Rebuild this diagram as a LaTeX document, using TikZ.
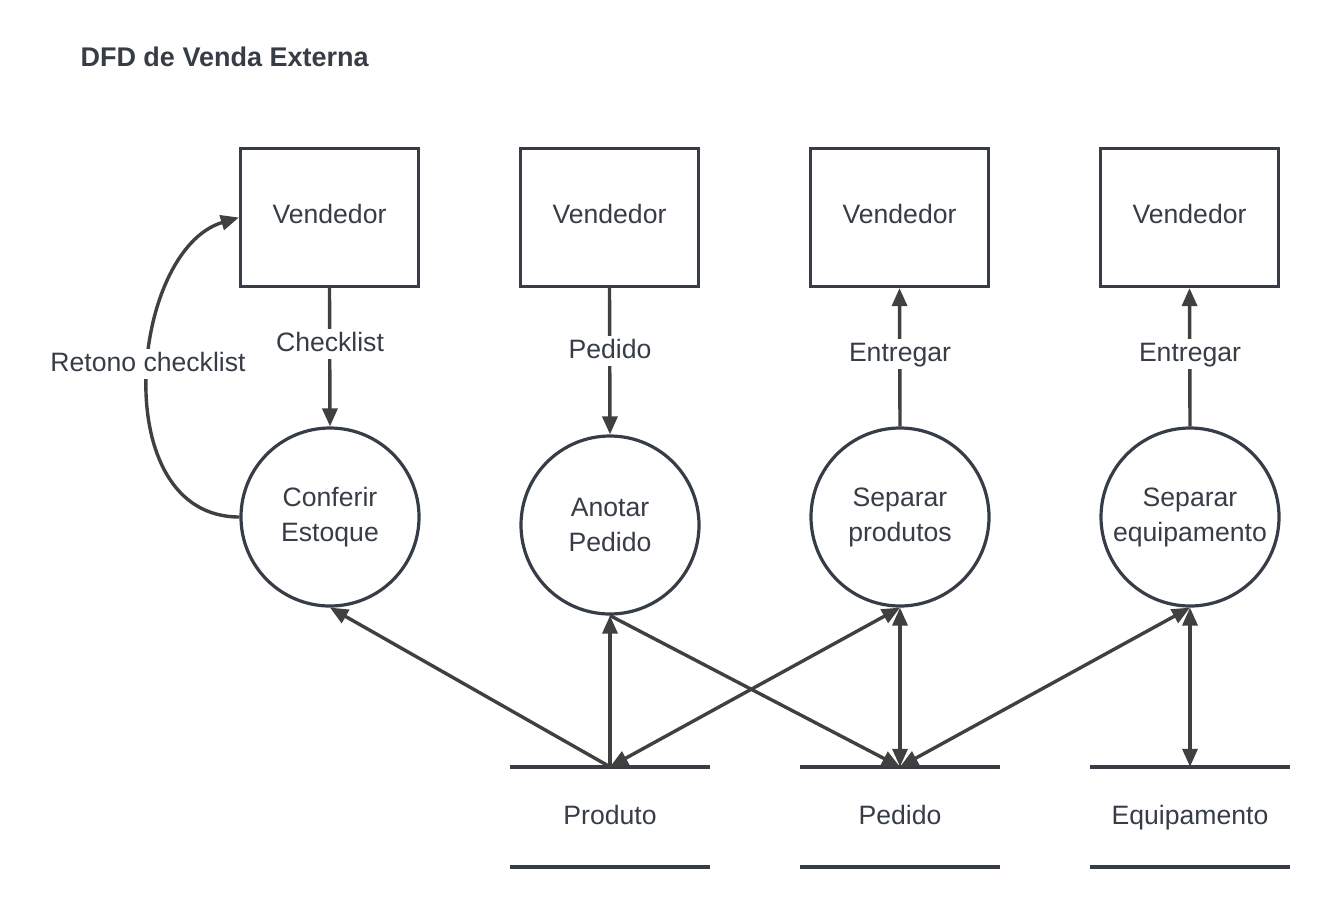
\documentclass[tikz,border=0pt]{standalone}
\usepackage{fontspec}
\setmainfont{Liberation Sans}
\usetikzlibrary{arrows.meta}
\definecolor{ink}{HTML}{363D47}
\definecolor{arr}{HTML}{404040}
\begin{document}
\begin{tikzpicture}[x=1pt,y=-1pt,
  font=\fontsize{26.6}{35}\selectfont, text=ink,
  ent/.style={draw=ink, line width=3.2pt, minimum width=178pt, minimum height=138pt, fill=white, inner sep=0pt, text height=19pt, text depth=6.5pt},
  proc/.style={draw=ink, line width=3.2pt, circle, minimum size=178pt, fill=white, align=center, inner sep=0pt},
  store/.style={minimum width=200pt, minimum height=100pt, inner sep=0pt, text height=19pt, text depth=5pt},
  storeline/.style={draw=ink, line width=4pt},
  tip/.tip={Triangle[length=18pt,width=15pt]},
  flow/.style={draw=arr, line width=3.4pt, -tip},
  flowtwo/.style={draw=arr, line width=3.4pt, tip-tip},
  lab/.style={fill=white, inner sep=3pt, text height=19pt, text depth=5pt}]
\fill[white] (0,0) rectangle (1330,908);
\useasboundingbox (0,0) rectangle (1330,908);

% title
\node[anchor=west, font=\bfseries\fontsize{27}{30}\selectfont] (title) at (77,57) {DFD de Venda Externa};

% external entities
\node[ent] (v1) at (329.5,217.5) {Vendedor};
\node[ent] (v2) at (609.5,217.5) {Vendedor};
\node[ent] (v3) at (899.5,217.5) {Vendedor};
\node[ent] (v4) at (1189.5,217.5) {Vendedor};

% processes
\node[proc] (c1) at (330,517) {Conferir\\Estoque};
\node[proc] (c2) at (610,525) {Anotar\\Pedido};
\node[proc] (c3) at (900,517) {Separar\\produtos};
\node[proc] (c4) at (1190,517) {Separar\\equipamento};

% data stores
\node[store] (s1) at (610,817) {Produto};
\node[store] (s2) at (900,817) {Pedido};
\node[store] (s3) at (1190,817) {Equipamento};
\foreach \s in {s1,s2,s3}{
  \draw[storeline] (\s.north west) -- (\s.north east);
  \draw[storeline] (\s.south west) -- (\s.south east);
}

% flows between entities and processes
\draw[flow] (v1.south) -- (c1.north);
\draw[flow] (v2.south) -- (c2.north);
\draw[flow] (c3.north) -- (v3.south);
\draw[flow] (c4.north) -- (v4.south);
\draw[flow] (c1.west) .. controls (105,517) and (130,250) .. (v1.west);

% flows with data stores
\draw[flow] (s1.north) -- (c1.south);
\draw[flow] (s1.north) -- (c2.south);
\draw[flowtwo] (c3.south) -- (s1.north);
\draw[flow] (c2.south) -- (s2.north);
\draw[flowtwo] (s2.north) -- (c3.south);
\draw[flowtwo] (s2.north) -- (c4.south);
\draw[flowtwo] (s3.north) -- (c4.south);

% labels
\node[lab] (l1) at (330,344) {Checklist};
\node[lab] (l2) at (610,351) {Pedido};
\node[lab] (l3) at (900,354) {Entregar};
\node[lab] (l4) at (1190,354) {Entregar};
\node[lab] (l5) at (148,364) {Retono checklist};
\end{tikzpicture}
\end{document}
